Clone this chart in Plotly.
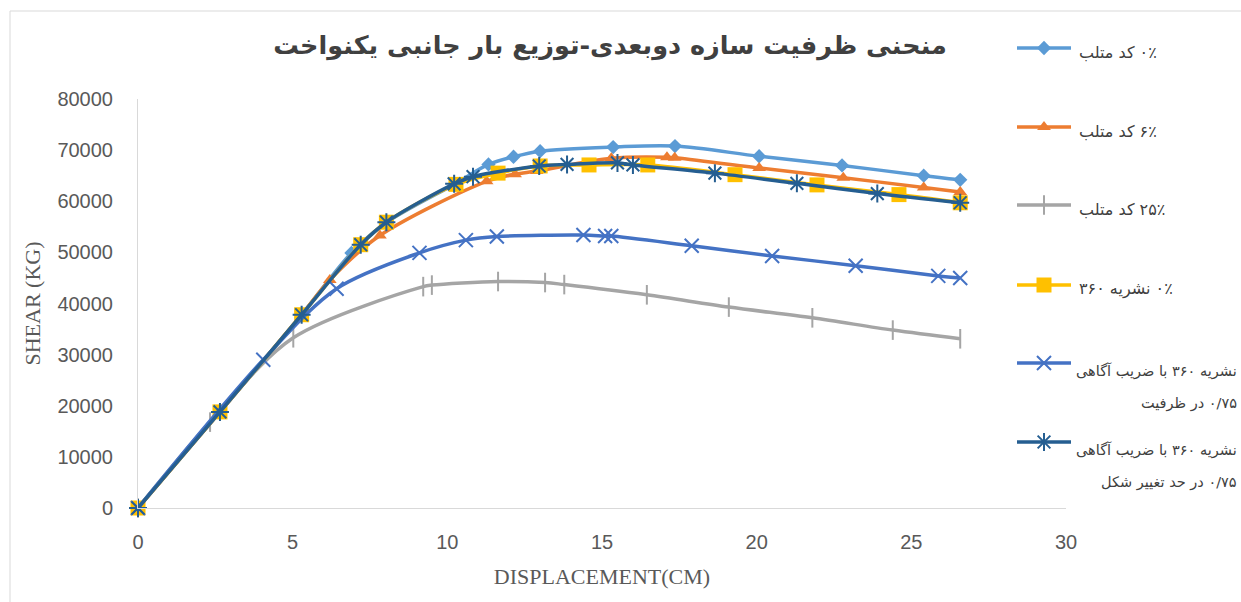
import plotly.graph_objects as go

# ---- data: displacement (cm) / base shear (kg) for each analysis case ----
disp_code0 = [0, 2.65, 5.29, 6.9, 8.02, 10.25, 11.33, 12.14, 13.0, 15.36, 17.36, 20.08, 22.76, 25.4, 26.58]
shear_code0 = [0, 18800, 37800, 49900, 55800, 63400, 67200, 68700, 69800, 70600, 70800, 68800, 67000, 65000, 64200]

disp_code6 = [0, 2.65, 5.29, 6.2, 7.82, 11.27, 12.19, 12.89, 15.3, 17.1, 17.35, 20.08, 22.8, 25.4, 26.58]
shear_code6 = [0, 18800, 37800, 44600, 53300, 63900, 65300, 65900, 68400, 68600, 68500, 66500, 64600, 62700, 61800]

disp_code25 = [0, 2.33, 5.02, 9.22, 9.5, 11.64, 13.16, 13.78, 16.45, 19.1, 21.8, 24.4, 26.58]
shear_code25 = [0, 16800, 33300, 43300, 43600, 44300, 44100, 43700, 41700, 39300, 37200, 34800, 33100]

disp_n360 = [0, 2.65, 5.29, 7.2, 8.03, 10.28, 11.64, 13.0, 14.58, 16.48, 19.3, 21.95, 24.6, 26.58]
shear_n360 = [0, 18800, 37800, 51500, 55900, 63300, 65500, 66900, 67100, 67100, 65200, 63200, 61300, 59700]

disp_n360_cap = [0, 4.05, 6.42, 9.1, 10.6, 11.6, 14.4, 15.1, 15.3, 17.9, 20.5, 23.2, 25.87, 26.58]
shear_n360_cap = [0, 29000, 42900, 49900, 52400, 53100, 53400, 53200, 53200, 51300, 49300, 47400, 45400, 45000]

disp_n360_def = [0, 2.65, 5.29, 7.2, 8.03, 10.22, 10.83, 12.97, 13.87, 15.5, 16.0, 18.65, 21.3, 23.9, 26.58]
shear_n360_def = [0, 18800, 37800, 51500, 55900, 63400, 64800, 66900, 67200, 67500, 67100, 65500, 63500, 61500, 59700]

x_ticks = [0, 5, 10, 15, 20, 25, 30]
y_ticks = [0, 10000, 20000, 30000, 40000, 50000, 60000, 70000, 80000]

series_labels = [
    ["۰٪ کد متلب"],
    ["۶٪ کد متلب"],
    ["۲۵٪ کد متلب"],
    ["۰٪ نشریه ۳۶۰"],
    ["نشریه ۳۶۰ با ضریب آگاهی", "۰/۷۵ در ظرفیت"],
    ["نشریه ۳۶۰ با ضریب آگاهی", "۰/۷۵ در حد تغییر شکل"],
]
chart_title = "منحنی ظرفیت سازه دوبعدی-توزیع بار جانبی یکنواخت"

# ---- styling ----
W, H = 1241, 602
RLE, PDF = "\u202b", "\u202c"
AXIS_GREY = "#595959"
LINE_W = 3.5

styles = [
    dict(color="#5B9BD5", symbol="diamond", size=11, filled=True),
    dict(color="#ED7D31", symbol="triangle-up", size=12, filled=True),
    dict(color="#A5A5A5", symbol="line-ns", size=14, filled=False),
    dict(color="#FFC000", symbol="square", size=15, filled=True),
    dict(color="#4472C4", symbol="x-thin", size=14, filled=False),
    dict(color="#255E91", symbol="asterisk", size=15, filled=False),
]
series = [
    (disp_code0, shear_code0),
    (disp_code6, shear_code6),
    (disp_code25, shear_code25),
    (disp_n360, shear_n360),
    (disp_n360_cap, shear_n360_cap),
    (disp_n360_def, shear_n360_def),
]


def marker_of(st):
    if st["filled"]:
        return dict(symbol=st["symbol"], size=st["size"], color=st["color"], line=dict(width=0))
    return dict(symbol=st["symbol"], size=st["size"], color=st["color"],
                line=dict(width=2, color=st["color"]))


fig = go.Figure()

for (xs, ys), st in zip(series, styles):
    fig.add_trace(go.Scatter(
        x=xs, y=ys, mode="lines+markers",
        line=dict(color=st["color"], width=LINE_W, shape="spline", smoothing=0.9),
        marker=marker_of(st), cliponaxis=False, showlegend=False, hoverinfo="x+y",
    ))

# ---- legend: samples on an overlay axis measured in page pixels ----
legend_rows = [48, 127, 205, 285, 363, 442]
for row, st in zip(legend_rows, styles):
    fig.add_trace(go.Scatter(
        x=[0, 1], y=[row, row], mode="lines", xaxis="x2", yaxis="y2",
        line=dict(color=st["color"], width=LINE_W), showlegend=False, hoverinfo="skip",
    ))
    fig.add_trace(go.Scatter(
        x=[0.5], y=[row], mode="markers", xaxis="x2", yaxis="y2",
        marker=marker_of(st), cliponaxis=False, showlegend=False, hoverinfo="skip",
    ))

annotations = []
LEG_FONT = dict(family="DejaVu Sans", size=16, color="#404040")
LEG_FONT_WRAP = dict(family="DejaVu Sans", size=14.5, color="#404040")
text_left = 1077
wrap_right = 1239
for row, lines in zip(legend_rows, series_labels):
    if len(lines) == 1:
        annotations.append(dict(
            text=RLE + lines[0] + PDF, xref="paper", yref="paper",
            x=text_left / W, y=1 - (row + 4) / H, xanchor="left", yanchor="middle",
            showarrow=False, font=LEG_FONT))
    else:
        annotations.append(dict(
            text=RLE + lines[0] + PDF, xref="paper", yref="paper",
            x=wrap_right / W, y=1 - (row + 8) / H, xanchor="right", yanchor="middle",
            showarrow=False, font=LEG_FONT_WRAP))
        annotations.append(dict(
            text=RLE + lines[1] + PDF, xref="paper", yref="paper",
            x=wrap_right / W, y=1 - (row + 40) / H, xanchor="right", yanchor="middle",
            showarrow=False, font=LEG_FONT_WRAP))

fig.update_layout(
    width=W, height=H, autosize=False,
    margin=dict(l=0, r=0, t=0, b=0, pad=0, autoexpand=False),
    paper_bgcolor="white", plot_bgcolor="rgba(0,0,0,0)",
    title=dict(
        text=RLE + chart_title + PDF, x=610 / W, xanchor="center",
        y=1 - 45 / H, yanchor="middle", automargin=False,
        font=dict(family="DejaVu Sans", size=25.5, color="#404040", weight="bold"),
    ),
    xaxis=dict(
        domain=[138 / W, 1066 / W], range=[0, 30], tickvals=x_ticks,
        showgrid=False, zeroline=False, showline=True, linecolor="#D9D9D9", linewidth=1,
        ticks="", ticklabelstandoff=16, automargin=False,
        tickfont=dict(family="Liberation Sans", size=20, color=AXIS_GREY),
        title=dict(text="DISPLACEMENT(CM)", standoff=16,
                   font=dict(family="Liberation Serif", size=22, color=AXIS_GREY)),
        anchor="y",
    ),
    yaxis=dict(
        domain=[(H - 508) / H, (H - 99) / H], range=[0, 80000], tickvals=y_ticks,
        tickformat="d", automargin=False,
        showgrid=False, zeroline=False, showline=True, linecolor="#D9D9D9", linewidth=1,
        ticks="", ticklabelstandoff=20,
        tickfont=dict(family="Liberation Sans", size=20, color=AXIS_GREY),
        title=dict(text="SHEAR (KG)", standoff=10,
                   font=dict(family="Liberation Serif", size=22, color=AXIS_GREY)),
        anchor="x",
    ),
    xaxis2=dict(domain=[1017 / W, 1071 / W], range=[0, 1], visible=False,
                anchor="y2", fixedrange=True, automargin=False),
    yaxis2=dict(domain=[0, 1], range=[H, 0], visible=False,
                anchor="x2", fixedrange=True, automargin=False),
    annotations=annotations,
    shapes=[dict(type="rect", xref="paper", yref="paper",
                 x0=10 / W, x1=1.05, y0=-0.05, y1=1 - 11 / H,
                 line=dict(color="#D9D9D9", width=1), layer="below")],
)

fig.write_html("out.html")
